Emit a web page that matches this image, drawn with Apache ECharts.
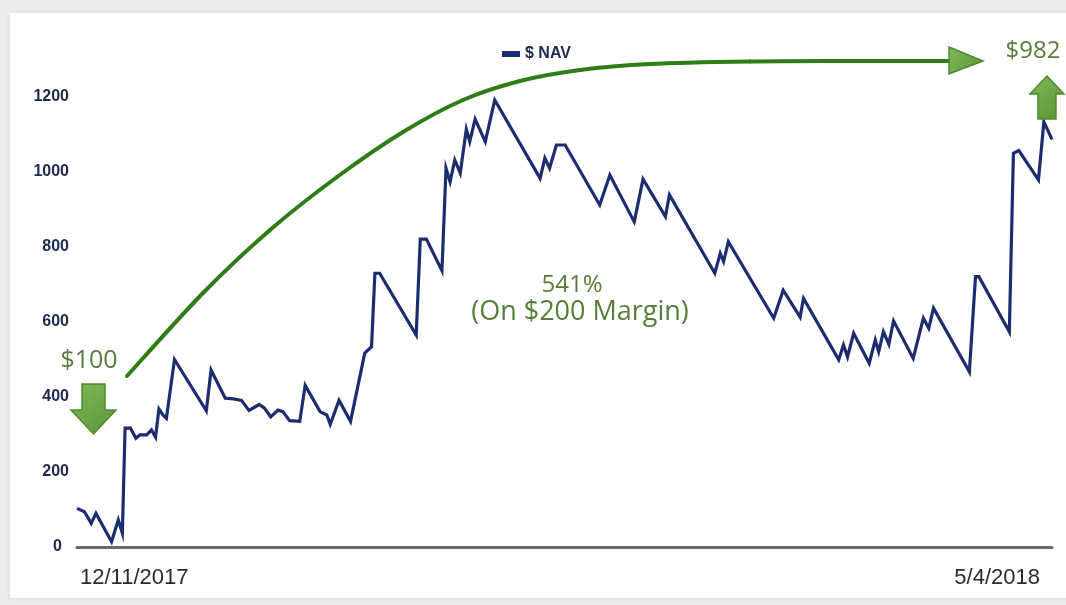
<!DOCTYPE html>
<html>
<head>
<meta charset="utf-8">
<title>$ NAV</title>
<script src="https://cdn.jsdelivr.net/npm/echarts@6/dist/echarts.min.js"></script>
<style>
  html, body { margin: 0; padding: 0; background: #ececec; }
  #chart { width: 1066px; height: 605px; }
</style>
</head>
<body>
<div id="chart"></div>
<script>
// Days elapsed since 12/11/2017 and the account NAV on each of those days
const days = [
  0.0, 1.1, 2.1, 2.8, 5.1, 6.1, 6.7, 7.1, 7.9, 8.7, 9.3, 10.3, 11.0, 11.6, 12.1, 12.7, 13.2,
  14.4, 19.1, 19.8, 21.9, 23.1, 24.3, 25.4, 26.9, 27.7, 28.6, 29.7, 30.4, 31.4, 32.9, 33.7,
  35.9, 36.9, 37.4, 38.7, 40.4, 42.5, 43.5, 44.0, 44.7, 50.1, 50.7, 51.6, 53.9, 54.5, 55.1,
  55.8, 56.6, 57.5, 58.0, 58.8, 60.3, 61.7, 68.4, 69.1, 69.8, 70.8, 72.1, 77.2, 78.7, 82.3,
  83.6, 86.9, 87.5, 94.2, 95.0, 95.5, 96.2, 102.9, 104.3, 106.8, 107.3, 112.5, 113.2, 113.8,
  114.7, 117.0, 117.9, 118.4, 119.1, 119.9, 120.6, 123.5, 125.0, 125.8, 126.5, 131.8, 132.7,
  133.2, 137.7, 138.3, 139.1, 142.0, 142.8, 144.0
];
const nav = [
  103, 94, 63, 90, 14, 72, 37, 317, 317, 290, 299, 299, 312, 293, 368, 352, 343,
  500, 363, 472, 397, 395, 391, 364, 380, 370, 347, 365, 361, 337, 335, 431,
  361, 352, 327, 391, 335, 517, 534, 730, 730, 565, 821, 821, 737, 1010, 974,
  1032, 997, 1114, 1081, 1141, 1081, 1192, 983, 1037, 1010, 1072, 1072, 912, 992, 867,
  981, 881, 939, 730, 783, 761, 814, 610, 685, 613, 663, 499, 539, 507,
  570, 490, 552, 521, 574, 541, 603, 503, 610, 583, 637, 467, 721,
  721, 574, 1050, 1057, 979, 1134, 1087
];
const dateLabels = ['12/11/2017', '5/4/2018'];
const dayRange = [0, 144];
const yTicks = { min: 0, max: 1200, step: 200 };

const NAVY = '#1b2d6e';
const LABEL_NAVY = '#1c2a50';
const GREEN = '#2f7d16';
const GREEN_TEXT = '#587c3a';
const NOTE_FONT = 'Open Sans, Noto Sans, sans-serif';

// path of the hand-drawn growth arrow (screen pixels, decoration only)
const growthPath = [
  [127, 376], [203, 293], [270, 230], [337, 177], [403, 132], [463, 100],
  [520, 81], [580, 70], [650, 64], [750, 61.5], [850, 61], [952, 61]
];

// Catmull-Rom spline through the points, one bezier element per segment
function splineSegments(pts, style) {
  const out = [];
  for (let i = 0; i < pts.length - 1; i++) {
    const p0 = pts[Math.max(i - 1, 0)];
    const p1 = pts[i];
    const p2 = pts[i + 1];
    const p3 = pts[Math.min(i + 2, pts.length - 1)];
    out.push({
      type: 'bezierCurve', z: 5, silent: true,
      shape: {
        x1: p1[0], y1: p1[1],
        cpx1: p1[0] + (p2[0] - p0[0]) / 6, cpy1: p1[1] + (p2[1] - p0[1]) / 6,
        cpx2: p2[0] - (p3[0] - p1[0]) / 6, cpy2: p2[1] - (p3[1] - p1[1]) / 6,
        x2: p2[0], y2: p2[1]
      },
      style: style
    });
  }
  return out;
}

const chart = echarts.init(document.getElementById('chart'), null, { renderer: 'canvas' });

// green gradient for the annotation arrows
const arrowFill = new echarts.graphic.LinearGradient(0, 0, 1, 1, [
  { offset: 0, color: '#7fb957' },
  { offset: 1, color: '#5a9438' }
]);

const dateStyle = { fontSize: 22, color: '#2b2b2b', fontFamily: 'Liberation Sans, Arial' };

chart.setOption({
  backgroundColor: '#ececec',
  animation: false,
  legend: {
    data: ['$ NAV'],
    left: 497,
    top: 41,
    icon: 'rect',
    itemWidth: 18,
    itemHeight: 6,
    itemGap: 14,
    textStyle: { color: LABEL_NAVY, fontWeight: 'bold', fontSize: 16, fontFamily: 'Liberation Sans, Arial' }
  },
  grid: { left: 77, right: 14, top: 97, bottom: 58, containLabel: false },
  xAxis: {
    type: 'value',
    min: dayRange[0],
    max: dayRange[1],
    axisLine: { show: true, lineStyle: { color: '#6a6a6a', width: 3 } },
    axisTick: { show: false },
    splitLine: { show: false },
    axisLabel: {
      customValues: dayRange,
      alignMinLabel: 'left',
      alignMaxLabel: 'right',
      margin: 20,
      ...dateStyle,
      formatter: (v) => (v === dayRange[0] ? '{l|' + dateLabels[0] + '}' : '{r|' + dateLabels[1] + '}'),
      rich: {
        l: { ...dateStyle, padding: [0, 0, 0, 3] },
        r: { ...dateStyle, padding: [0, 12, 0, 0] }
      }
    }
  },
  yAxis: {
    type: 'value',
    min: yTicks.min,
    max: yTicks.max,
    interval: yTicks.step,
    axisLine: { show: false },
    axisTick: { show: false },
    splitLine: { show: false },
    axisLabel: {
      margin: 8,
      color: LABEL_NAVY,
      fontWeight: 'bold',
      fontSize: 16,
      fontFamily: 'Liberation Sans, Arial',
      formatter: (v) => (v === 0 ? '{z|0}' : String(v)),
      rich: {
        z: { color: LABEL_NAVY, fontWeight: 'bold', fontSize: 16, fontFamily: 'Liberation Sans, Arial', padding: [0, 7, 0, 0] }
      }
    }
  },
  series: [{
    name: '$ NAV',
    type: 'line',
    data: days.map((d, i) => [d, nav[i]]),
    showSymbol: false,
    lineStyle: { color: NAVY, width: 3.2, join: 'miter' },
    itemStyle: { color: NAVY },
    z: 3
  }],
  graphic: [
    // white card behind the chart
    {
      type: 'rect', z: -10, silent: true,
      shape: { x: 10, y: 13, width: 1070, height: 585 },
      style: { fill: '#ffffff', shadowBlur: 6, shadowColor: 'rgba(0,0,0,0.08)' }
    },
    // growth curve from the start value to the end value
    ...splineSegments(growthPath, { stroke: GREEN, lineWidth: 4, fill: null, lineCap: 'round' }),
    {
      type: 'polygon', z: 6, silent: true,
      shape: { points: [[949, 47], [983, 61], [949, 74]] },
      style: { fill: arrowFill, stroke: '#4d8a2c', lineWidth: 1.5 }
    },
    // up arrow next to the end value
    {
      type: 'polygon', z: 6, silent: true,
      shape: { points: [[1047, 76], [1064, 94], [1056, 94], [1056, 119], [1038, 119], [1038, 94], [1030, 94]] },
      style: { fill: arrowFill, stroke: '#4d8a2c', lineWidth: 1.5 }
    },
    // down arrow under the start value
    {
      type: 'polygon', z: 6, silent: true,
      shape: { points: [[82, 384], [105, 384], [105, 410], [116, 410], [93.5, 434], [71, 410], [82, 410]] },
      style: { fill: arrowFill, stroke: '#4d8a2c', lineWidth: 1.5 }
    },
    {
      type: 'text', z: 6, silent: true,
      style: { text: '$100', x: 89, y: 361, textAlign: 'center', textVerticalAlign: 'middle',
        fill: GREEN_TEXT, fontSize: 25, fontFamily: NOTE_FONT }
    },
    {
      type: 'text', z: 6, silent: true,
      style: { text: '$982', x: 1033, y: 51, textAlign: 'center', textVerticalAlign: 'middle',
        fill: GREEN_TEXT, fontSize: 24, fontFamily: NOTE_FONT }
    },
    {
      type: 'text', z: 6, silent: true,
      style: { text: '541%', x: 572, y: 285, textAlign: 'center', textVerticalAlign: 'middle',
        fill: GREEN_TEXT, fontSize: 24, fontFamily: NOTE_FONT }
    },
    {
      type: 'text', z: 6, silent: true,
      style: { text: '(On $200 Margin)', x: 580, y: 312, textAlign: 'center', textVerticalAlign: 'middle',
        fill: GREEN_TEXT, fontSize: 27, fontFamily: NOTE_FONT }
    }
  ]
});
</script>
</body>
</html>
